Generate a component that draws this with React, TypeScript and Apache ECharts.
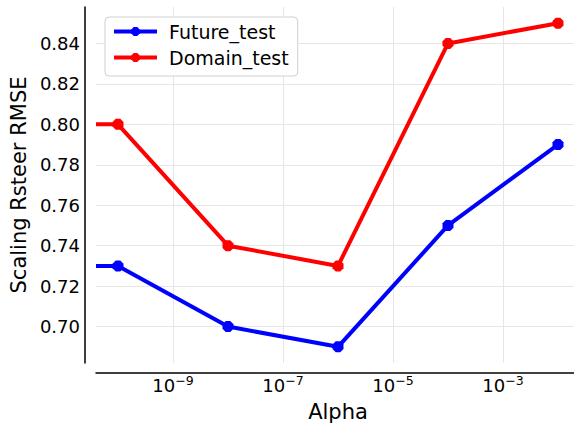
import React, { useEffect, useRef } from "react";
import * as echarts from "echarts";

const alphas = [0, 1e-10, 1e-8, 1e-6, 1e-4, 1e-2];
const futureTest = [0.73, 0.73, 0.70, 0.69, 0.75, 0.79];
const domainTest = [0.80, 0.80, 0.74, 0.73, 0.84, 0.85];
const xTickExponents = [-9, -7, -5, -3];
const yTicks = [0.70, 0.72, 0.74, 0.76, 0.78, 0.80, 0.82, 0.84];

const X_MIN = -10.4;
const X_MAX = -1.6;
const Y_MIN = 0.682;
const Y_MAX = 0.858;

const FONT = "DejaVu Sans";
const OCTAGON =
  "path://M-0.383,-0.924L0.383,-0.924L0.924,-0.383L0.924,0.383L0.383,0.924L-0.383,0.924L-0.924,0.383L-0.924,-0.383Z";

function toPoints(values: number[]) {
  return values.map((v, i) => {
    const a = alphas[i];
    const x = a > 0 ? Math.log10(a) : X_MIN;
    if (a > 0) return { value: [x, v] };
    return { value: [x, v], symbol: "none", symbolSize: 0 };
  });
}

export default function App() {
  const ref = useRef<HTMLDivElement>(null);
  useEffect(() => {
    document.body.style.margin = "0";
    if (!ref.current) return;
    const chart = echarts.init(ref.current, undefined, { renderer: "svg" });
    const mkSeries = (name: string, color: string, values: number[]) => ({
      name,
      type: "line",
      data: toPoints(values),
      symbol: OCTAGON,
      symbolSize: 11,
      lineStyle: { color, width: 4, cap: "butt" },
      itemStyle: { color },
      clip: true,
      z: name === "Future_test" ? 3 : 2,
    });
    chart.setOption({
      animation: false,
      backgroundColor: "#ffffff",
      textStyle: { fontFamily: FONT },
      grid: { left: 96, top: 7, width: 484, height: 356, containLabel: false, outerBoundsMode: "none" },
      legend: {
        left: 105,
        top: 17,
        orient: "vertical",
        data: ["Future_test", "Domain_test"],
        itemWidth: 43,
        itemHeight: 11,
        itemGap: 7,
        padding: [5, 9, 9, 7],
        borderColor: "#d0d0d0",
        borderWidth: 1,
        borderRadius: 4,
        backgroundColor: "#ffffff",
        lineStyle: { width: 4 },
        formatter: (name: string) => `{a|${name}}`,
        textStyle: {
          fontFamily: FONT,
          fontSize: 19,
          color: "#000",
          rich: { a: { fontFamily: FONT, fontSize: 19, color: "#000", lineHeight: 22, padding: [0, 0, 0, 7] } },
        },
      },
      xAxis: {
        type: "value",
        min: X_MIN,
        max: X_MAX,
        offset: 10,
        name: "Alpha",
        nameLocation: "middle",
        nameGap: 22,
        nameTextStyle: { fontFamily: FONT, fontSize: 21, color: "#000" },
        axisLine: { show: true, onZero: false, lineStyle: { color: "#000", width: 1.5 } },
        axisTick: { show: false },
        splitLine: { show: false },
        axisLabel: {
          customValues: xTickExponents,
          margin: 1,
          color: "#000",
          formatter: (v: number) => {
            const s = String(Math.round(v)).replace("-", "−");
            return `{b|10}{s|${s}}`;
          },
          rich: {
            b: { fontFamily: FONT, fontSize: 18, color: "#000", verticalAlign: "bottom", lineHeight: 20 },
            s: { fontFamily: FONT, fontSize: 12.5, color: "#000", verticalAlign: "top", lineHeight: 20, padding: [0, 0, 10, 0] },
          },
        },
      },
      yAxis: {
        type: "value",
        min: Y_MIN,
        max: Y_MAX,
        offset: 11,
        name: "Scaling Rsteer RMSE",
        nameLocation: "middle",
        nameGap: 44,
        nameTextStyle: { fontFamily: FONT, fontSize: 21, color: "#000" },
        axisLine: { show: true, lineStyle: { color: "#000", width: 1.5 } },
        axisTick: { show: false },
        splitLine: { show: false },
        axisLabel: {
          customValues: yTicks,
          margin: 5,
          fontFamily: FONT,
          fontSize: 18,
          color: "#000",
          formatter: (v: number) => v.toFixed(2),
        },
      },
      series: [
        mkSeries("Future_test", "#0000ff", futureTest),
        mkSeries("Domain_test", "#ff0000", domainTest),
        {
          type: "line",
          data: [],
          silent: true,
          z: 0,
          markLine: {
            silent: true,
            z: 0,
            symbol: "none",
            label: { show: false },
            lineStyle: { color: "#e6e6e6", width: 1, type: "solid" },
            data: [
              ...xTickExponents.map((e) => ({ xAxis: e })),
              ...yTicks.map((t) => ({ yAxis: t })),
            ],
          },
        },
      ],
    });
    return () => chart.dispose();
  }, []);
  return <div ref={ref} style={{ width: 574, height: 425 }} />;
}
